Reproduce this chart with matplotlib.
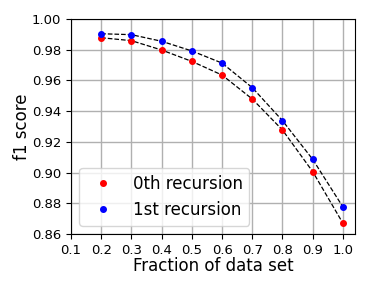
import matplotlib
matplotlib.use('Agg')
import matplotlib.pyplot as plt

fractions = [0.2, 0.3, 0.4, 0.5, 0.6, 0.7, 0.8, 0.9, 1.0]
f1_0th = [0.9878, 0.9859, 0.9798, 0.9724, 0.9635, 0.9479, 0.9277, 0.9006, 0.8670]
f1_1st = [0.9904, 0.9898, 0.9855, 0.9792, 0.9713, 0.9553, 0.9338, 0.9086, 0.8776]
xticks = [0.1, 0.2, 0.3, 0.4, 0.5, 0.6, 0.7, 0.8, 0.9, 1.0]
yticks = [0.86, 0.88, 0.90, 0.92, 0.94, 0.96, 0.98, 1.00]

fig = plt.figure(figsize=(3.74, 2.9), dpi=100)
ax = fig.add_axes([71/374, 1 - 234/290, (355-71)/374, (234-19)/290])

ax.plot(fractions, f1_0th, 'k--', lw=0.9, zorder=2)
ax.plot(fractions, f1_1st, 'k--', lw=0.9, zorder=2)
ax.plot(fractions, f1_0th, 'o', color='red', ms=4, label='0th recursion', zorder=3)
ax.plot(fractions, f1_1st, 'o', color='blue', ms=4, label='1st recursion', zorder=3)

ax.set_xlim(0.1, 1.04)
ax.set_ylim(0.86, 1.00)
ax.set_xticks(xticks)
ax.set_yticks(yticks)
ax.set_xticklabels(['%.1f' % t for t in xticks], fontsize=9.5)
ax.set_yticklabels(['%.2f' % t for t in yticks], fontsize=9.5)
ax.grid(True, color='#b0b0b0', lw=1)
ax.set_axisbelow(True)
ax.set_xlabel('Fraction of data set', fontsize=12, labelpad=0)
ax.set_ylabel('f1 score', fontsize=12, labelpad=1)
ax.legend(loc='lower left', fontsize=12)

fig.savefig('out.png', dpi=100)
